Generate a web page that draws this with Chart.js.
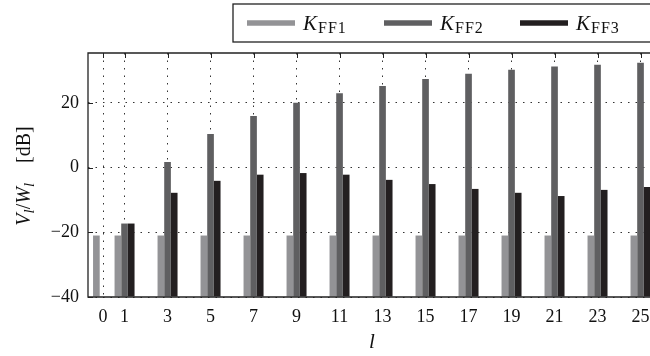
<!DOCTYPE html>
<html>
<head>
<meta charset="utf-8">
<script src="https://cdn.jsdelivr.net/npm/chart.js@4.4.0/dist/chart.umd.min.js"></script>
<style>
  html, body { margin:0; padding:0; background:#fff; overflow:hidden; }
  #wrap { width:662px; height:356px; }
</style>
</head>
<body>
<div id="wrap"><canvas id="c" width="662" height="356"></canvas></div>
<script>
// harmonic index l
const L = [0, 1, 3, 5, 7, 9, 11, 13, 15, 17, 19, 21, 23, 25];
// V_l / W_l in dB
const K_FF1 = [-21, -21, -21, -21, -21, -21, -21, -21, -21, -21, -21, -21, -21, -21];
const K_FF2 = [null, -17.3, 1.7, 10.4, 15.9, 20.0, 23.0, 25.2, 27.4, 29.0, 30.2, 31.2, 31.8, 32.4];
const K_FF3 = [null, -17.3, -7.8, -4.1, -2.2, -1.7, -2.2, -3.8, -5.1, -6.6, -7.8, -8.8, -6.9, -6.0];
const Y_TICKS = [-40, -20, 0, 20];
const SUBS = ['FF1', 'FF2', 'FF3'];
const COLORS = ['#939396', '#5f5f61', '#231f20'];
const Y_MIN = -40, Y_MAX = 35.4;

const SERIF = '"Liberation Serif", "DejaVu Serif", serif';

// draws "main" + subscript, returns end x
function drawSub(ctx, x, base, main, sub, mainFont, subFont, drop){
  ctx.font = mainFont;
  ctx.fillText(main, x, base);
  x += ctx.measureText(main).width;
  ctx.font = subFont;
  ctx.letterSpacing = '1px';
  ctx.fillText(sub, x + 1, base + drop);
  const end = x + 1 + ctx.measureText(sub).width;
  ctx.letterSpacing = '0px';
  return end;
}

// box lines, inner tick marks, legend and y title (MATLAB look)
const frame = {
  id: 'frame',
  afterDraw(chart){
    const {ctx, chartArea:a, scales:{x, y}} = chart;
    ctx.save();
    ctx.strokeStyle = '#222';
    ctx.lineWidth = 1.3;
    ctx.setLineDash([]);
    ctx.beginPath();
    ctx.moveTo(a.right, a.top); ctx.lineTo(a.left, a.top);
    ctx.lineTo(a.left, a.bottom); ctx.lineTo(a.right, a.bottom);
    ctx.stroke();

    ctx.lineWidth = 1;
    ctx.beginPath();
    L.forEach(v => {
      const px = Math.round(x.getPixelForValue(v)) + 0.5;
      ctx.moveTo(px, a.top); ctx.lineTo(px, a.top + 5);
    });
    Y_TICKS.forEach(v => {
      const py = Math.round(y.getPixelForValue(v)) + 0.5;
      ctx.moveTo(a.left, py); ctx.lineTo(a.left + 5, py);
    });
    ctx.stroke();

    // legend
    ctx.fillStyle = '#fff';
    ctx.fillRect(233, 4, 440, 38);
    ctx.lineWidth = 1.3;
    ctx.strokeStyle = '#222';
    ctx.strokeRect(233, 4, 440, 38);
    const lineX = [247, 384, 520];
    SUBS.forEach((s, i) => {
      ctx.strokeStyle = COLORS[i];
      ctx.lineWidth = 5.5;
      ctx.beginPath();
      ctx.moveTo(lineX[i], 23); ctx.lineTo(lineX[i] + 48, 23);
      ctx.stroke();
      ctx.fillStyle = '#111';
      ctx.textAlign = 'left';
      ctx.textBaseline = 'alphabetic';
      drawSub(ctx, lineX[i] + 56, 30, 'K', s, 'italic 21px ' + SERIF, '16px ' + SERIF, 3);
    });

    // y axis title, rotated
    ctx.translate(30, 176);
    ctx.rotate(-Math.PI / 2);
    ctx.fillStyle = '#111';
    ctx.textBaseline = 'alphabetic';
    const big = 'italic 20px ' + SERIF, small = 'italic 15px ' + SERIF, roman = '20px ' + SERIF;
    const parts = [['V', big, 0], ['l', small, 4], ['/', roman, 0], ['W', big, 0], ['l', small, 4], ['\u2003[dB]', roman, 0]];
    let w = 0;
    parts.forEach(p => { ctx.font = p[1]; w += ctx.measureText(p[0]).width; });
    let cx = -w / 2;
    parts.forEach(p => { ctx.font = p[1]; ctx.fillText(p[0], cx, p[2]); cx += ctx.measureText(p[0]).width; });
    ctx.restore();
  }
};

const series = [K_FF1, K_FF2, K_FF3];

new Chart(document.getElementById('c'), {
  type: 'bar',
  data: {
    datasets: SUBS.map((s, i) => ({
      label: 'K_' + s,
      data: L.map((l, j) => ({x: l, y: series[i][j]})),
      backgroundColor: COLORS[i],
      borderWidth: 0,
      base: Y_MIN
    }))
  },
  options: {
    responsive: false,
    animation: false,
    layout: {padding: {left: 0, top: 53, right: 6, bottom: 0}},
    datasets: {bar: {categoryPercentage: 0.93, barPercentage: 1}},
    plugins: {legend: {display: false}, tooltip: {enabled: false}},
    scales: {
      x: {
        type: 'linear', min: -0.7, max: 25.72, offset: false,
        afterBuildTicks: s => { s.ticks = L.map(v => ({value: v})); },
        afterFit: s => { s.height = 59; },
        grid: {offset: false, color: '#333', lineWidth: 1, drawTicks: false},
        border: {display: false, dash: [1.5, 6]},
        ticks: {color: '#111', font: {family: SERIF, size: 18}, padding: 9, autoSkip: false, maxRotation: 0},
        title: {display: true, text: 'l', color: '#111', font: {family: SERIF, size: 21, style: 'italic'}, padding: {top: 0, bottom: 1}}
      },
      y: {
        min: Y_MIN, max: Y_MAX,
        afterBuildTicks: s => { s.ticks = Y_TICKS.map(v => ({value: v})); },
        afterFit: s => { s.width = 88; },
        grid: {color: '#333', lineWidth: 1, drawTicks: false},
        border: {display: false, dash: [1.5, 6]},
        ticks: {color: '#111', font: {family: SERIF, size: 18}, padding: 9,
                callback: v => v < 0 ? '\u2212' + Math.abs(v) : String(v)}
      }
    }
  },
  plugins: [frame]
});
</script>
</body>
</html>
